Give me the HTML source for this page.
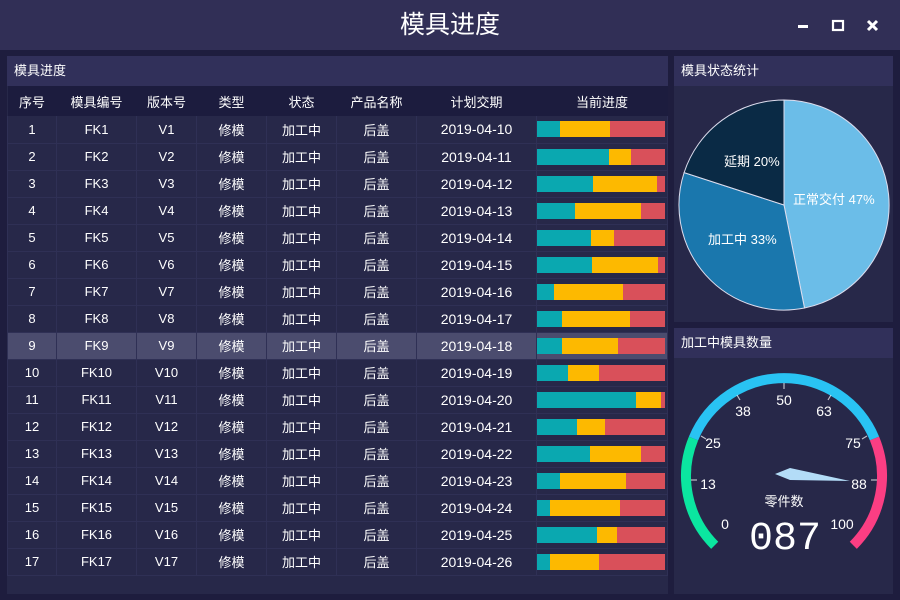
<!DOCTYPE html>
<html><head><meta charset="utf-8"><style>
*{margin:0;padding:0;box-sizing:border-box}
body{width:900px;height:600px;background:#1e1d3e;font-family:"Liberation Sans","Noto Sans CJK SC",sans-serif;color:#fff;position:relative;overflow:hidden}
.title{position:absolute;left:0;top:0;width:900px;height:50px;background:#312f56;text-align:center;line-height:50px;font-size:25px}
.panel{position:absolute;background:#272849}
.ph{height:30px;background:#31305a;font-size:13px;line-height:30px;padding-left:7px}
table{border-collapse:collapse;font-size:13px;table-layout:fixed;width:660px}
td,th{text-align:center;font-weight:normal;height:27px;border:1px solid #2f3055;border-top:none;padding:0}
td:nth-child(7){font-size:14px}
th{height:30px;background:#1c1c3e;border:none}
tr.hl td{background:#4b4c6e}
.bar{display:flex;height:16px;width:128px;margin:0 auto 0 0}
.bar i{display:block;height:16px}
.t{background:#0aa8b0}.y{background:#fdb900}.r{background:#d9505a;flex:1}
</style></head><body>
<div class="title">模具进度</div>
<svg style="position:absolute;left:790px;top:15px" width="100" height="22">
<rect x="8" y="10" width="10" height="3" fill="#fff"/>
<rect x="43" y="6" width="10" height="9" fill="none" stroke="#fff" stroke-width="2.2"/>
<path d="M78 6 L87 15 M87 6 L78 15" stroke="#fff" stroke-width="3"/>
</svg>
<div class="panel" style="left:7px;top:56px;width:661px;height:538px">
<div class="ph">模具进度</div>
<table>
<colgroup><col style="width:49px"><col style="width:80px"><col style="width:60px"><col style="width:70px"><col style="width:70px"><col style="width:80px"><col style="width:120px"><col style="width:131px"></colgroup>
<tr><th>序号</th><th>模具编号</th><th>版本号</th><th>类型</th><th>状态</th><th>产品名称</th><th>计划交期</th><th>当前进度</th></tr>
<tr><td>1</td><td>FK1</td><td>V1</td><td>修模</td><td>加工中</td><td>后盖</td><td>2019-04-10</td><td><div class="bar"><i class="t" style="width:23px"></i><i class="y" style="width:50px"></i><i class="r"></i></div></td></tr>
<tr><td>2</td><td>FK2</td><td>V2</td><td>修模</td><td>加工中</td><td>后盖</td><td>2019-04-11</td><td><div class="bar"><i class="t" style="width:72px"></i><i class="y" style="width:22px"></i><i class="r"></i></div></td></tr>
<tr><td>3</td><td>FK3</td><td>V3</td><td>修模</td><td>加工中</td><td>后盖</td><td>2019-04-12</td><td><div class="bar"><i class="t" style="width:56px"></i><i class="y" style="width:64px"></i><i class="r"></i></div></td></tr>
<tr><td>4</td><td>FK4</td><td>V4</td><td>修模</td><td>加工中</td><td>后盖</td><td>2019-04-13</td><td><div class="bar"><i class="t" style="width:38px"></i><i class="y" style="width:66px"></i><i class="r"></i></div></td></tr>
<tr><td>5</td><td>FK5</td><td>V5</td><td>修模</td><td>加工中</td><td>后盖</td><td>2019-04-14</td><td><div class="bar"><i class="t" style="width:54px"></i><i class="y" style="width:23px"></i><i class="r"></i></div></td></tr>
<tr><td>6</td><td>FK6</td><td>V6</td><td>修模</td><td>加工中</td><td>后盖</td><td>2019-04-15</td><td><div class="bar"><i class="t" style="width:55px"></i><i class="y" style="width:66px"></i><i class="r"></i></div></td></tr>
<tr><td>7</td><td>FK7</td><td>V7</td><td>修模</td><td>加工中</td><td>后盖</td><td>2019-04-16</td><td><div class="bar"><i class="t" style="width:17px"></i><i class="y" style="width:69px"></i><i class="r"></i></div></td></tr>
<tr><td>8</td><td>FK8</td><td>V8</td><td>修模</td><td>加工中</td><td>后盖</td><td>2019-04-17</td><td><div class="bar"><i class="t" style="width:25px"></i><i class="y" style="width:68px"></i><i class="r"></i></div></td></tr>
<tr class="hl"><td>9</td><td>FK9</td><td>V9</td><td>修模</td><td>加工中</td><td>后盖</td><td>2019-04-18</td><td><div class="bar"><i class="t" style="width:25px"></i><i class="y" style="width:56px"></i><i class="r"></i></div></td></tr>
<tr><td>10</td><td>FK10</td><td>V10</td><td>修模</td><td>加工中</td><td>后盖</td><td>2019-04-19</td><td><div class="bar"><i class="t" style="width:31px"></i><i class="y" style="width:31px"></i><i class="r"></i></div></td></tr>
<tr><td>11</td><td>FK11</td><td>V11</td><td>修模</td><td>加工中</td><td>后盖</td><td>2019-04-20</td><td><div class="bar"><i class="t" style="width:99px"></i><i class="y" style="width:25px"></i><i class="r"></i></div></td></tr>
<tr><td>12</td><td>FK12</td><td>V12</td><td>修模</td><td>加工中</td><td>后盖</td><td>2019-04-21</td><td><div class="bar"><i class="t" style="width:40px"></i><i class="y" style="width:28px"></i><i class="r"></i></div></td></tr>
<tr><td>13</td><td>FK13</td><td>V13</td><td>修模</td><td>加工中</td><td>后盖</td><td>2019-04-22</td><td><div class="bar"><i class="t" style="width:53px"></i><i class="y" style="width:51px"></i><i class="r"></i></div></td></tr>
<tr><td>14</td><td>FK14</td><td>V14</td><td>修模</td><td>加工中</td><td>后盖</td><td>2019-04-23</td><td><div class="bar"><i class="t" style="width:23px"></i><i class="y" style="width:66px"></i><i class="r"></i></div></td></tr>
<tr><td>15</td><td>FK15</td><td>V15</td><td>修模</td><td>加工中</td><td>后盖</td><td>2019-04-24</td><td><div class="bar"><i class="t" style="width:13px"></i><i class="y" style="width:70px"></i><i class="r"></i></div></td></tr>
<tr><td>16</td><td>FK16</td><td>V16</td><td>修模</td><td>加工中</td><td>后盖</td><td>2019-04-25</td><td><div class="bar"><i class="t" style="width:60px"></i><i class="y" style="width:20px"></i><i class="r"></i></div></td></tr>
<tr><td>17</td><td>FK17</td><td>V17</td><td>修模</td><td>加工中</td><td>后盖</td><td>2019-04-26</td><td><div class="bar"><i class="t" style="width:13px"></i><i class="y" style="width:49px"></i><i class="r"></i></div></td></tr>
</table>
</div>

<div class="panel" style="left:674px;top:56px;width:219px;height:266px">
<div class="ph">模具状态统计</div>
</div>
<svg style="position:absolute;left:0;top:0" width="900" height="600">
<g stroke="#dde" stroke-width="1">
<path d="M784 205 L784 100 A105 105 0 0 1 804.5 308 Z" fill="#6bbde8"/>
<path d="M784 205 L804.5 308 A105 105 0 0 1 684.1 172.6 Z" fill="#1a77ad"/>
<path d="M784 205 L684.1 172.6 A105 105 0 0 1 784 100 Z" fill="#0a2a45"/>
</g>
<g font-size="13" fill="#fff" font-family="Liberation Sans,Noto Sans CJK SC,sans-serif">
<text x="793" y="204">正常交付 47%</text>
<text x="708" y="244">加工中 33%</text>
<text x="724" y="166">延期 20%</text>
</g>
</svg>

<div class="panel" style="left:674px;top:328px;width:219px;height:266px">
<div class="ph">加工中模具数量</div>
</div>
<svg style="position:absolute;left:0;top:0" width="900" height="600">
<g fill="none" stroke-width="10">
<path d="M714.7 545.3 A98 98 0 0 1 693.5 438.5" stroke="#0be6a0"/>
<path d="M693.5 438.5 A98 98 0 0 1 874.5 438.5" stroke="#29c3f3"/>
<path d="M874.5 438.5 A98 98 0 0 1 853.3 545.3" stroke="#fb3e83"/>
</g>
<g stroke="#fff" stroke-width="1.2" opacity=".7">
<line x1="784" y1="383" x2="784" y2="389"/>
<line x1="737" y1="395" x2="740" y2="400"/>
<line x1="831" y1="395" x2="828" y2="400"/>
<line x1="701" y1="436" x2="706" y2="439"/>
<line x1="867" y1="436" x2="862" y2="439"/>
<line x1="691" y1="480" x2="697" y2="480"/>
<line x1="877" y1="480" x2="871" y2="480"/>
</g>
<polygon points="775,474 790,468 850,481 790,480" fill="#b3dcf7"/>
<g font-size="14" fill="#fff" text-anchor="middle" font-family="Liberation Sans,Noto Sans CJK SC,sans-serif">
<text x="784" y="405">50</text>
<text x="743" y="416">38</text>
<text x="824" y="416">63</text>
<text x="713" y="448">25</text>
<text x="853" y="448">75</text>
<text x="708" y="489">13</text>
<text x="859" y="489">88</text>
<text x="725" y="529">0</text>
<text x="842" y="529">100</text>
<text x="784" y="506" font-size="13">零件数</text>
<text x="785" y="549" font-size="40" font-family="Liberation Mono,monospace" fill="#fff">087</text>
</g>
</svg>
</body></html>
